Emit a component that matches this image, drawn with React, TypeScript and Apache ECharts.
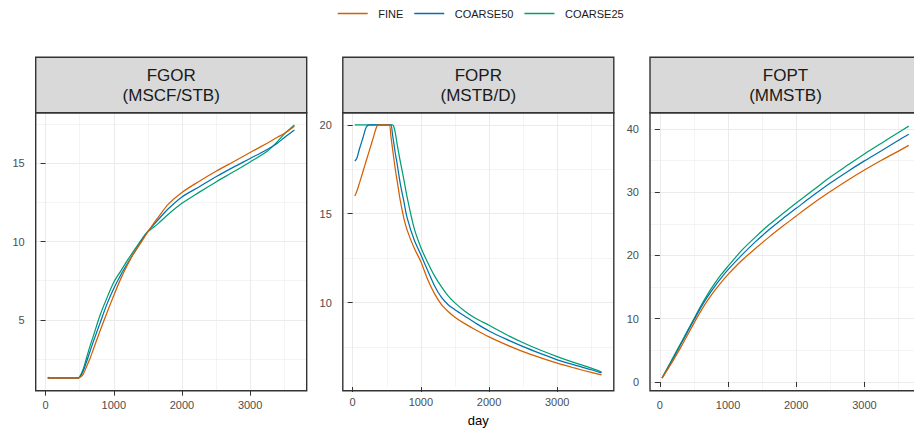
import React, { useEffect, useRef } from 'react';
import * as echarts from 'echarts';

const seriesNames = ['FINE', 'COARSE50', 'COARSE25'];
const seriesColors = ['#D55E00', '#0072B2', '#009E73'];
const panelTitles = ['FGOR\n(MSCF/STB)', 'FOPR\n(MSTB/D)', 'FOPT\n(MMSTB)'];

// FGOR
const fgorDays = [31, 100, 200, 300, 400, 470, 500, 550, 600, 650, 700, 800, 900, 1000, 1100, 1200, 1300, 1400, 1480, 1550, 1650, 1800, 2000, 2250, 2500, 2750, 3000, 3250, 3400, 3500, 3650];
const fgorFine = [1.27, 1.27, 1.27, 1.27, 1.27, 1.27, 1.3, 1.5, 2.0, 2.5, 3.1, 4.3, 5.45, 6.55, 7.6, 8.5, 9.3, 9.95, 10.5, 10.95, 11.55, 12.4, 13.15, 13.85, 14.5, 15.1, 15.7, 16.3, 16.68, 16.92, 17.39];
const fgorCoarse50 = [1.27, 1.27, 1.27, 1.27, 1.27, 1.27, 1.32, 1.7, 2.3, 2.95, 3.6, 4.8, 6.0, 7.0, 7.85, 8.6, 9.3, 10.0, 10.55, 10.9, 11.4, 12.1, 12.86, 13.5, 14.15, 14.75, 15.32, 15.9, 16.3, 16.65, 17.14];
const fgorCoarse25 = [1.32, 1.28, 1.28, 1.28, 1.28, 1.28, 1.35, 1.82, 2.55, 3.3, 3.95, 5.3, 6.4, 7.4, 8.1, 8.8, 9.45, 10.08, 10.55, 10.8, 11.15, 11.75, 12.45, 13.15, 13.82, 14.45, 15.1, 15.78, 16.4, 16.88, 17.46];

// FOPR
const foprDays = [31, 60, 100, 150, 200, 250, 300, 350, 380, 400, 450, 500, 537, 561, 586, 600, 625, 650, 700, 750, 800, 900, 1000, 1100, 1200, 1300, 1400, 1500, 1650, 1800, 2000, 2250, 2500, 2750, 3000, 3250, 3500, 3650];
const foprFine = [16.0, 16.25, 16.73, 17.36, 17.99, 18.62, 19.25, 19.88, 20, 20, 20, 20, 20, 19.33, 18.6, 18.2, 17.5, 16.9, 15.7, 14.75, 14.06, 13.08, 12.3, 11.3, 10.5, 9.9, 9.5, 9.18, 8.8, 8.47, 8.07, 7.63, 7.24, 6.9, 6.59, 6.32, 6.07, 5.93];
const foprCoarse50 = [17.96, 18.1, 18.65, 19.26, 19.88, 20, 20, 20, 20, 20, 20, 20, 20, 20, 19.4, 19.05, 18.4, 17.85, 16.65, 15.7, 14.75, 13.55, 12.69, 11.8, 10.95, 10.3, 9.88, 9.6, 9.22, 8.85, 8.4, 7.94, 7.52, 7.14, 6.78, 6.49, 6.22, 6.04];
const foprCoarse25 = [20, 20, 20, 20, 20, 20, 20, 20, 20, 20, 20, 20, 20, 20, 20, 19.93, 19.55, 18.95, 17.9, 16.93, 15.9, 14.2, 13.1, 12.25, 11.5, 10.9, 10.38, 9.98, 9.5, 9.12, 8.72, 8.2, 7.74, 7.33, 6.96, 6.62, 6.31, 6.09];

// FOPT
const foptDays = [31, 100, 200, 300, 400, 500, 600, 700, 800, 900, 1000, 1200, 1400, 1600, 1800, 2000, 2250, 2500, 2750, 3000, 3250, 3500, 3650];
const foptFine = [0.6, 1.75, 3.5, 5.35, 7.3, 9.3, 11.2, 12.9, 14.4, 15.75, 17.0, 19.2, 21.1, 22.9, 24.6, 26.25, 28.25, 30.1, 31.85, 33.5, 35.05, 36.5, 37.4];
const foptCoarse50 = [0.6, 1.9, 3.8, 5.8, 7.8, 9.8, 11.75, 13.5, 15.05, 16.45, 17.75, 20.05, 22.15, 24.05, 25.8, 27.45, 29.5, 31.45, 33.25, 34.95, 36.55, 38.2, 39.15];
const foptCoarse25 = [0.62, 2.0, 4.0, 6.0, 8.0, 10.0, 12.0, 13.85, 15.5, 17.0, 18.3, 20.8, 22.9, 24.85, 26.6, 28.3, 30.35, 32.4, 34.25, 36.05, 37.75, 39.45, 40.45];

const xTicks = [0, 1000, 2000, 3000];
const yTicks = [[5, 10, 15], [10, 15, 20], [0, 10, 20, 30, 40]];
const yIntervals = [5, 5, 10];
const yRanges = [[0.46, 18.25], [5.25, 20.68], [-1.38, 42.57]];
const xRange = [-145, 3830];

const FONT = 'Liberation Sans, Arial, sans-serif';

export default function App() {
  const ref = useRef<HTMLDivElement>(null);
  useEffect(() => {
    if (!ref.current) return;
    const chart = echarts.init(ref.current, null, { renderer: 'svg' });

    const panels = [
      { days: fgorDays, vals: [fgorFine, fgorCoarse50, fgorCoarse25] },
      { days: foprDays, vals: [foprFine, foprCoarse50, foprCoarse25] },
      { days: foptDays, vals: [foptFine, foptCoarse50, foptCoarse25] },
    ];
    const lefts = [35.7, 342.8, 650];
    const panelW = 271;
    const top = 112.7;
    const panelH = 278;
    const stripTop = 57.3;

    const grids = lefts.map((l) => ({ left: l, top, width: panelW, height: panelH, containLabel: false }));

    const gridLine = { show: true, lineStyle: { color: '#EBEBEB', width: 1.07 } };
    const minorLine = { show: true, lineStyle: { color: '#EBEBEB', width: 0.55 } };

    const xAxes = lefts.map((_, i) => ({
      type: 'value',
      gridIndex: i,
      min: xRange[0],
      max: xRange[1],
      minInterval: 1000,
      maxInterval: 1000,
      axisLine: { show: false },
      axisTick: { show: true, length: 5, customValues: xTicks, lineStyle: { color: '#333333', width: 1 } },
      axisLabel: {
        customValues: xTicks,
        color: '#4D4D4D',
        fontSize: 11,
        fontFamily: FONT,
        margin: 9,
        formatter: (v: number) => (xTicks.indexOf(Math.round(v)) >= 0 && Math.abs(v - Math.round(v)) < 1e-6 ? String(Math.round(v)) : ''),
      },
      splitLine: gridLine,
      minorTick: { show: false, splitNumber: 2 },
      minorSplitLine: minorLine,
      name: i === 1 ? 'day' : '',
      nameLocation: 'middle',
      nameGap: 27,
      nameTextStyle: { fontSize: 13, color: '#000000', fontFamily: FONT },
    }));

    const yAxes = lefts.map((_, i) => ({
      type: 'value',
      gridIndex: i,
      min: yRanges[i][0],
      max: yRanges[i][1],
      minInterval: yIntervals[i],
      maxInterval: yIntervals[i],
      axisLine: { show: false },
      axisTick: { show: true, length: 5, customValues: yTicks[i], lineStyle: { color: '#333333', width: 1 } },
      axisLabel: {
        customValues: yTicks[i],
        color: '#4D4D4D',
        fontSize: 11,
        fontFamily: FONT,
        margin: 11,
        formatter: (v: number) => {
          const r = Math.round(v);
          return Math.abs(v - r) < 1e-6 && yTicks[i].indexOf(r) >= 0 ? String(r) : '';
        },
      },
      splitLine: gridLine,
      minorTick: { show: false, splitNumber: 2 },
      minorSplitLine: minorLine,
    }));

    const series: any[] = [];
    panels.forEach((p, pi) => {
      [2, 1, 0].forEach((si) => {
        series.push({
          type: 'line',
          name: seriesNames[si],
          xAxisIndex: pi,
          yAxisIndex: pi,
          data: p.days.map((d, k) => [d, p.vals[si][k]]),
          symbol: 'none',
          showSymbol: false,
          smooth: 0.3,
          lineStyle: { color: seriesColors[si], width: 1.25 },
          itemStyle: { color: seriesColors[si] },
          z: 2 + (2 - si) * 0.1,
        });
      });
    });

    const graphics: any[] = [];
    lefts.forEach((l, i) => {
      graphics.push({
        type: 'rect',
        shape: { x: l, y: stripTop, width: panelW, height: top - stripTop },
        style: { fill: '#D9D9D9', stroke: '#333333', lineWidth: 1.4 },
        z: 50,
      });
      graphics.push({
        type: 'text',
        x: l + panelW / 2,
        y: (stripTop + top) / 2 + 0.5,
        style: {
          text: panelTitles[i],
          fill: '#1A1A1A',
          fontSize: 17,
          fontFamily: FONT,
          align: 'center',
          verticalAlign: 'middle',
          lineHeight: 20,
        },
        z: 51,
      });
      graphics.push({
        type: 'rect',
        shape: { x: l, y: top, width: panelW, height: panelH },
        style: { fill: 'none', stroke: '#333333', lineWidth: 1.4 },
        z: 50,
      });
    });

    chart.setOption({
      animation: false,
      backgroundColor: '#FFFFFF',
      textStyle: { fontFamily: FONT },
      legend: {
        data: seriesNames.map((n, i) => ({ name: n, icon: 'rect', itemStyle: { color: seriesColors[i] } })),
        left: 337.7,
        top: 8,
        padding: 0,
        itemWidth: 30,
        itemHeight: 1.5,
        itemGap: 11,
        textStyle: { fontSize: 11, color: '#1A1A1A', fontFamily: FONT, padding: [0, 0, 0, 5.5] },
      },
      grid: grids,
      xAxis: xAxes,
      yAxis: yAxes,
      series,
      graphic: graphics,
    });

    return () => {
      chart.dispose();
    };
  }, []);

  return (
    <div style={{ position: 'absolute', left: 0, top: 0, width: 914, height: 432, overflow: 'hidden' }}>
      <div ref={ref} style={{ position: 'absolute', left: 0, top: 0, width: 930, height: 432 }} />
    </div>
  );
}
